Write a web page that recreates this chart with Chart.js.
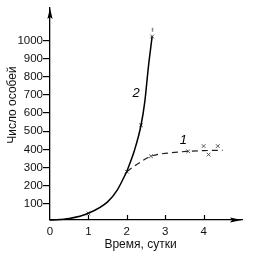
<!DOCTYPE html>
<html><head><meta charset="utf-8">
<script src="https://cdn.jsdelivr.net/npm/chart.js@4"></script>
<style>html,body{margin:0;padding:0;background:#fff}canvas{display:block}</style>
</head><body>
<canvas id="c" width="253" height="256"></canvas>
<script>
// Data (x: сутки, y: число особей)
const commonX = [0, 0.5, 1, 1.5, 1.75, 2];
const commonY = [10, 18, 47, 110, 175, 277];
const curve2X = [2, 2.2, 2.37, 2.47, 2.56, 2.66];
const curve2Y = [277, 395, 533, 665, 850, 1023];
const curve1X = [2, 2.3, 2.63, 3.1, 3.6, 4.0, 4.5];
const curve1Y = [277, 322, 362, 380, 389, 393, 395];
const markX = [1, 2, 2.37, 2.66, 2.63, 3.6, 4.0, 4.13, 4.37];
const markY = [47, 277, 533, 1023, 362, 389, 418, 371, 418];
const topDashX = [2.67, 2.67];
const topDashY = [1049, 1071];
const xTickValues = [0, 1, 2, 3, 4];
const yTickValues = [100, 200, 300, 400, 500, 600, 700, 800, 900, 1000];
const curveLabels = ['2', '1'];
const curveLabelX = [2.24, 3.47];
const curveLabelY = [710, 450];
const xTitle = 'Время, сутки';
const yTitle = 'Число особей';

const pts = (xs, ys) => xs.map((x, i) => ({x, y: ys[i]}));
const FONT = '"Liberation Sans", Arial, sans-serif';

const decor = {
  id: 'decor',
  afterDraw(chart) {
    const ctx = chart.ctx, a = chart.chartArea;
    const xs = chart.scales.x, ys = chart.scales.y;
    ctx.save();
    ctx.fillStyle = '#000'; ctx.strokeStyle = '#000';
    // arrows
    ctx.beginPath();
    ctx.moveTo(a.left, a.top);
    ctx.lineTo(a.left - 2.6, a.top + 11);
    ctx.lineTo(a.left, a.top + 9);
    ctx.lineTo(a.left + 2.6, a.top + 11);
    ctx.closePath(); ctx.fill();
    ctx.beginPath();
    ctx.moveTo(a.right, a.bottom);
    ctx.lineTo(a.right - 12, a.bottom - 2.6);
    ctx.lineTo(a.right - 10, a.bottom);
    ctx.lineTo(a.right - 12, a.bottom + 2.6);
    ctx.closePath(); ctx.fill();
    // inward x ticks
    ctx.lineWidth = 1.2;
    xTickValues.slice(1).forEach(v => {
      const px = Math.round(xs.getPixelForValue(v)) + 0.5;
      ctx.beginPath(); ctx.moveTo(px, a.bottom); ctx.lineTo(px, a.bottom - 5); ctx.stroke();
    });
    // curve labels
    ctx.font = 'italic 13px ' + FONT;
    ctx.textAlign = 'center'; ctx.textBaseline = 'middle';
    curveLabels.forEach((t, i) => {
      ctx.fillText(t, xs.getPixelForValue(curveLabelX[i]), ys.getPixelForValue(curveLabelY[i]));
    });
    // axis titles
    ctx.font = '12px ' + FONT;
    ctx.fillStyle = '#111';
    ctx.fillText(xTitle, 140.5, 244.5);
    ctx.translate(12.5, 105);
    ctx.rotate(-Math.PI / 2);
    ctx.fillText(yTitle, 0, 0);
    ctx.restore();
  }
};

new Chart(document.getElementById('c'), {
  type: 'scatter',
  data: {
    datasets: [
      {data: pts(commonX, commonY), showLine: true, borderColor: '#000', borderWidth: 1.5,
       pointRadius: 0, cubicInterpolationMode: 'monotone', clip: false},
      {data: pts(curve2X, curve2Y), showLine: true, borderColor: '#000', borderWidth: 1.5,
       pointRadius: 0, cubicInterpolationMode: 'monotone'},
      {data: pts(curve1X, curve1Y), showLine: true, borderColor: '#222', borderWidth: 1.2,
       borderDash: [6, 4], pointRadius: 0, cubicInterpolationMode: 'monotone'},
      {data: pts(topDashX, topDashY), showLine: true, borderColor: '#888', borderWidth: 1.5,
       pointRadius: 0},
      {data: pts(markX, markY), showLine: false, pointStyle: 'crossRot', pointRadius: 2.6,
       pointBorderColor: '#555', pointBorderWidth: 1, pointBackgroundColor: '#555'}
    ]
  },
  options: {
    responsive: false, animation: false,
    layout: {padding: {left: 0, right: 11, top: 8, bottom: 0}},
    plugins: {legend: {display: false}, tooltip: {enabled: false}},
    scales: {
      x: {
        type: 'linear', min: 0, max: 5,
        afterBuildTicks: s => { s.ticks = xTickValues.map(v => ({value: v})); },
        afterFit: s => { s.height = 36; },
        grid: {display: true, drawOnChartArea: false, drawTicks: false},
        border: {color: '#000', width: 1.3},
        ticks: {color: '#111', padding: 5, font: {family: FONT, size: 11.5}, maxRotation: 0,
                callback: v => String(v)}
      },
      y: {
        type: 'linear', min: 10, max: 1180,
        afterBuildTicks: s => { s.ticks = yTickValues.map(v => ({value: v})); },
        afterFit: s => { s.width = 50; },
        grid: {display: true, drawOnChartArea: false, drawTicks: true, tickLength: 7, color: '#000', lineWidth: 1.2},
        border: {color: '#000', width: 1.3},
        ticks: {color: '#111', padding: 0, font: {family: FONT, size: 11.5},
                callback: v => String(v)}
      }
    }
  },
  plugins: [decor]
});
</script>
</body></html>
